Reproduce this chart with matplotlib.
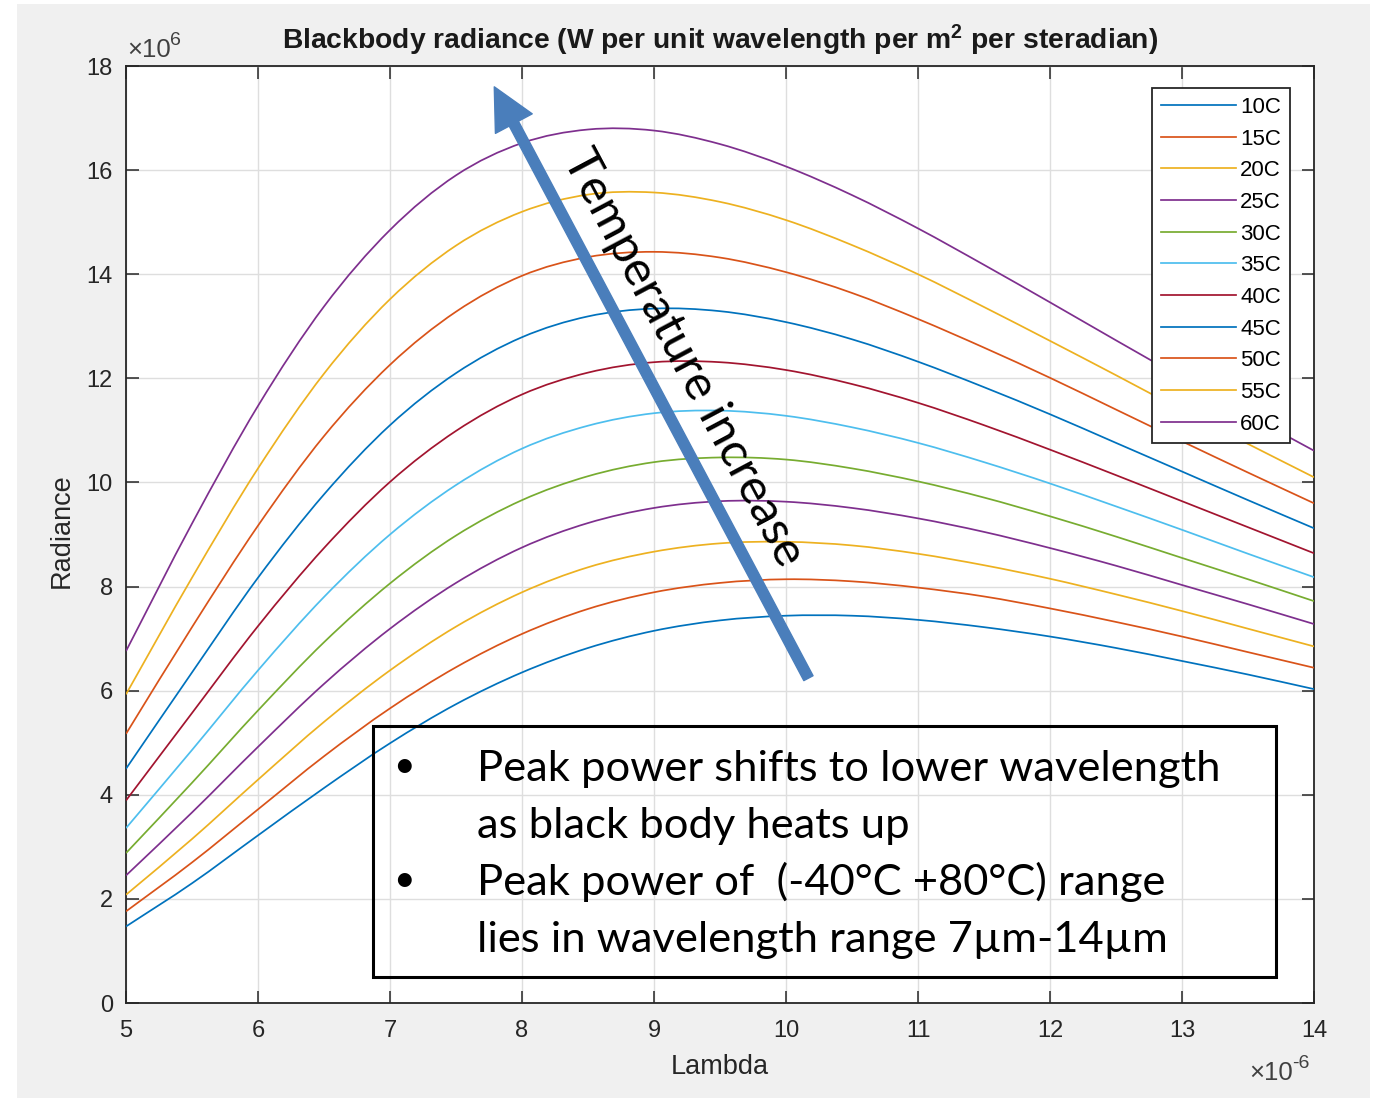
import matplotlib
matplotlib.use("Agg")
import matplotlib.pyplot as plt
from matplotlib.patches import Rectangle, PathPatch
from matplotlib.path import Path

plt.rcParams['font.family'] = ['Liberation Sans', 'DejaVu Sans']
plt.rcParams['mathtext.fontset'] = 'custom'
plt.rcParams['mathtext.rm'] = 'Liberation Sans'
plt.rcParams['mathtext.it'] = 'Liberation Sans:italic'
plt.rcParams['mathtext.bf'] = 'Liberation Sans:bold'

# ---------------- data ----------------
lambda_um = [5.0, 5.5, 6.0, 6.5, 7.0, 7.5, 8.0, 8.5, 9.0, 9.5, 10.0,
             10.5, 11.0, 11.5, 12.0, 12.5, 13.0, 13.5, 14.0]
labels = ["10C", "15C", "20C", "25C", "30C", "35C", "40C", "45C", "50C", "55C", "60C"]
# radiance in units of 1e6
rad_10C = [1.47, 2.30, 3.22, 4.13, 4.99, 5.74, 6.35, 6.82, 7.15, 7.35, 7.44, 7.44, 7.36, 7.22, 7.04, 6.82, 6.57, 6.31, 6.03]
rad_15C = [1.76, 2.70, 3.72, 4.74, 5.66, 6.45, 7.09, 7.57, 7.89, 8.07, 8.14, 8.10, 7.98, 7.81, 7.58, 7.32, 7.04, 6.74, 6.44]
rad_20C = [2.08, 3.15, 4.29, 5.40, 6.39, 7.23, 7.89, 8.37, 8.67, 8.83, 8.86, 8.79, 8.63, 8.41, 8.15, 7.85, 7.53, 7.19, 6.85]
rad_25C = [2.45, 3.66, 4.92, 6.13, 7.19, 8.07, 8.75, 9.22, 9.51, 9.64, 9.63, 9.51, 9.31, 9.05, 8.74, 8.40, 8.03, 7.66, 7.28]
rad_30C = [2.88, 4.23, 5.62, 6.93, 8.06, 8.98, 9.66, 10.12, 10.39, 10.48, 10.44, 10.27, 10.02, 9.71, 9.35, 8.96, 8.55, 8.14, 7.72]
rad_35C = [3.36, 4.86, 6.39, 7.80, 9.00, 9.95, 10.65, 11.09, 11.33, 11.38, 11.28, 11.06, 10.76, 10.39, 9.98, 9.54, 9.09, 8.63, 8.18]
rad_40C = [3.89, 5.57, 7.24, 8.74, 10.01, 10.99, 11.69, 12.11, 12.31, 12.31, 12.16, 11.89, 11.53, 11.10, 10.63, 10.14, 9.64, 9.14, 8.64]
rad_45C = [4.50, 6.35, 8.17, 9.77, 11.10, 12.10, 12.79, 13.19, 13.34, 13.29, 13.08, 12.75, 12.32, 11.83, 11.31, 10.76, 10.21, 9.66, 9.12]
rad_50C = [5.17, 7.22, 9.17, 10.89, 12.26, 13.28, 13.97, 14.33, 14.43, 14.32, 14.04, 13.64, 13.14, 12.59, 12.01, 11.40, 10.79, 10.19, 9.60]
rad_55C = [5.93, 8.17, 10.27, 12.09, 13.52, 14.55, 15.20, 15.53, 15.57, 15.39, 15.04, 14.56, 14.00, 13.37, 12.72, 12.06, 11.39, 10.74, 10.10]
rad_60C = [6.76, 9.21, 11.47, 13.38, 14.85, 15.90, 16.52, 16.78, 16.76, 16.50, 16.07, 15.52, 14.88, 14.18, 13.46, 12.73, 12.01, 11.30, 10.61]
series = [rad_10C, rad_15C, rad_20C, rad_25C, rad_30C, rad_35C,
          rad_40C, rad_45C, rad_50C, rad_55C, rad_60C]

xticks = [5, 6, 7, 8, 9, 10, 11, 12, 13, 14]
yticks = [0, 2, 4, 6, 8, 10, 12, 14, 16, 18]

bullet_lines = ["Peak power shifts to lower wavelength",
                "as black body heats up",
                "Peak power of  (-40\u00b0C +80\u00b0C) range",
                "lies in wavelength range 7\u00b5m-14\u00b5m"]

colors = ["#0072BD", "#D95319", "#EDB120", "#7E2F8E", "#77AC30", "#4DBEEE",
          "#A2142F", "#0072BD", "#D95319", "#EDB120", "#7E2F8E"]

# ---------------- figure ----------------
W, H = 1377, 1100
fig = plt.figure(figsize=(W / 100, H / 100), dpi=100, facecolor='white')


def fx(p):
    return p / W


def fy(p):
    return 1 - p / H


def smooth_path(xs, ys):
    """Smooth (Catmull-Rom style Bezier) path through the read points."""
    n = len(xs)
    tx, ty = [], []
    for i in range(n):
        if i == 0:
            dx, dy = xs[1] - xs[0], ys[1] - ys[0]
        elif i == n - 1:
            dx, dy = xs[-1] - xs[-2], ys[-1] - ys[-2]
        else:
            dx, dy = (xs[i + 1] - xs[i - 1]) / 2, (ys[i + 1] - ys[i - 1]) / 2
        tx.append(dx)
        ty.append(dy)
    verts = [(xs[0], ys[0])]
    codes = [Path.MOVETO]
    for i in range(n - 1):
        verts += [(xs[i] + tx[i] / 3, ys[i] + ty[i] / 3),
                  (xs[i + 1] - tx[i + 1] / 3, ys[i + 1] - ty[i + 1] / 3),
                  (xs[i + 1], ys[i + 1])]
        codes += [Path.CURVE4] * 3
    return Path(verts, codes)


fig.patches.append(Rectangle((fx(17), fy(1098)), fx(1370) - fx(17), fy(4) - fy(1098),
                             transform=fig.transFigure, facecolor='#f0f0f0',
                             edgecolor='none', zorder=-10))

ax = fig.add_axes([fx(126), fy(1003), fx(1314) - fx(126), fy(66) - fy(1003)])
ax.set_facecolor('white')

LW = 1.25
for lab, vals, c in zip(labels, series, colors):
    ax.add_patch(PathPatch(smooth_path(lambda_um, vals), facecolor='none',
                           edgecolor=c, lw=LW, zorder=3))
    ax.plot([], [], color=c, lw=LW, label=lab)

ax.set_xlim(5, 14)
ax.set_ylim(0, 18)
ax.set_xticks(xticks)
ax.set_yticks(yticks)
ax.set_xticklabels([str(t) for t in xticks])
ax.set_yticklabels([str(t) for t in yticks])
ax.grid(True, color='#dedede', lw=1.0)
ax.set_axisbelow(True)
ax.tick_params(direction='in', length=9, width=1.1, top=True, right=True,
               labelsize=17, colors='#262626')
ax.tick_params(axis='x', pad=12)
ax.tick_params(axis='y', pad=9.5)
for s in ax.spines.values():
    s.set_color('#262626')
    s.set_linewidth(1.3)

leg = ax.legend(loc='upper right', bbox_to_anchor=(0.9798, 0.9765), fontsize=16,
                frameon=True, fancybox=False, edgecolor='#262626', framealpha=1,
                handlelength=3.4, handletextpad=0.18, labelspacing=0.48,
                borderpad=0.4, borderaxespad=0)
leg.get_frame().set_linewidth(1.3)
leg.set_zorder(10)

# arrow and its label
ax.annotate("", xy=(7.79, 17.60), xytext=(10.17, 6.24),
            arrowprops=dict(arrowstyle="simple,head_length=3.0,head_width=3.0,tail_width=0.75",
                            mutation_scale=10, color='#4a7ebb', shrinkA=0, shrinkB=0),
            zorder=6)
ax.text(9.22, 12.40, "Temperature increase", rotation=-62, ha='center', va='center',
        rotation_mode='anchor', fontsize=35, family=['Lato', 'DejaVu Sans'],
        color='black', zorder=7)

# text box
ax.add_patch(Rectangle((6.871, 0.50), 13.712 - 6.871, 5.32 - 0.50, fill=False,
                       edgecolor='black', lw=2.2, zorder=8))
baselines = [781, 838, 895, 952]
for i, (txt, by) in enumerate(zip(bullet_lines, baselines)):
    fig.text(fx(477), fy(by), txt, fontsize=31.3, family=['Lato', 'DejaVu Sans'],
             ha='left', va='baseline', color='black')
    if i in (0, 2):
        fig.text(fx(404), fy(by - 15), "\u2022", fontsize=27, family=['Lato', 'DejaVu Sans'],
                 ha='center', va='center', color='black')

# titles and labels
fig.text(fx(720), fy(40),
         r"Blackbody radiance (W per unit wavelength per m$^{\mathbf{2}}$ per steradian)",
         fontsize=20.3, fontweight='bold', ha='center', va='center', color='#1a1a1a')
fig.text(fx(62), fy(531), "Radiance", rotation=90, fontsize=19.5, ha='center', va='center',
         color='#262626')
fig.text(fx(720), fy(1067), "Lambda", fontsize=19.5, ha='center', va='center', color='#262626')

# axis multipliers
fig.text(fx(127), fy(57), "\u00d710", fontsize=18.5, ha='left', va='baseline', color='#404040')
fig.text(fx(170), fy(45), "6", fontsize=14, ha='left', va='baseline', color='#404040')
fig.text(fx(1249), fy(1080), "\u00d710", fontsize=18.5, ha='left', va='baseline', color='#404040')
fig.text(fx(1292), fy(1068), "-6", fontsize=14, ha='left', va='baseline', color='#404040')

fig.savefig('out.png', dpi=100)
